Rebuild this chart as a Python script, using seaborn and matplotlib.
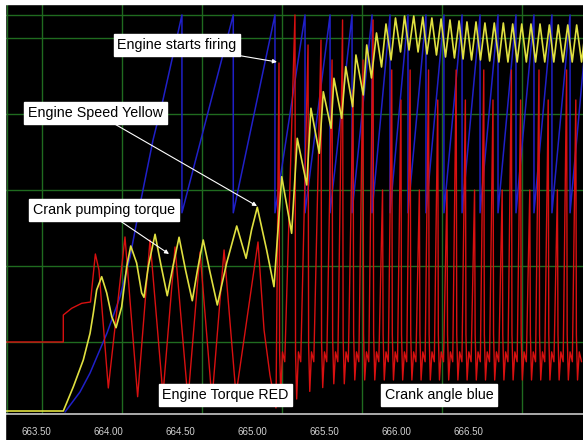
import matplotlib
matplotlib.use("Agg")
import matplotlib.pyplot as plt
from matplotlib.patches import Rectangle
import numpy as np
import pandas as pd
import seaborn as sns

sns.set_theme(style="dark")
plt.rcParams["font.family"] = ["Liberation Sans", "DejaVu Sans"]

# ---- engine speed (yellow), display divisions ----
speed_t = [663.280, 663.685, 663.755, 663.824, 663.871, 663.894, 663.917, 663.952,
           663.987, 664.022, 664.052, 664.091, 664.126, 664.154, 664.195, 664.230,
           664.246, 664.276, 664.323, 664.364, 664.408, 664.448, 664.490, 664.535,
           664.582, 664.618, 664.658, 664.705, 664.756, 664.821, 664.891, 664.956,
           664.994, 665.034, 665.099, 665.150, 665.204, 665.273, 665.312, 665.378,
           665.407, 665.465, 665.493, 665.547, 665.567, 665.621, 665.649, 665.697,
           665.720, 665.771, 665.795, 665.828, 665.863, 665.898, 665.929, 665.964,
           665.995, 666.030, 666.058, 666.089, 666.122, 666.152, 666.185, 666.214,
           666.248, 666.280, 666.312, 666.343, 666.374, 666.405, 666.437, 666.465,
           666.492, 666.524, 666.555, 666.586, 666.617, 666.650, 666.682, 666.714,
           666.745, 666.777, 666.810, 666.841, 666.873, 666.905, 666.937, 666.969,
           667.000, 667.033, 667.065, 667.096, 667.127, 667.160, 667.193, 667.224,
           667.255, 667.289, 667.320]
speed_v = [0.092, 0.092, 0.412, 0.763, 1.114, 1.382, 1.684, 1.859,
           1.645, 1.333, 1.188, 1.464, 1.991, 2.263, 2.039, 1.645,
           1.588, 1.991, 2.417, 2.013, 1.609, 2.000, 2.378, 1.947,
           1.543, 1.947, 2.342, 1.921, 1.487, 2.039, 2.526, 2.101,
           2.474, 2.772, 2.211, 1.728, 3.175, 2.430, 3.680, 3.066,
           4.075, 3.483, 4.293, 3.812, 4.470, 3.943, 4.622, 4.096,
           4.776, 4.250, 4.908, 4.474, 5.066, 4.618, 5.184, 4.711,
           5.263, 4.816, 5.289, 4.842, 5.289, 4.816, 5.276, 4.789,
           5.263, 4.776, 5.250, 4.750, 5.237, 4.737, 5.224, 4.724,
           5.211, 4.711, 5.211, 4.711, 5.197, 4.697, 5.197, 4.684,
           5.197, 4.684, 5.184, 4.684, 5.184, 4.684, 5.184, 4.684,
           5.184, 4.684, 5.171, 4.684, 5.171, 4.684, 5.171, 4.684,
           5.171, 4.684, 5.171]

# ---- engine torque (red): cranking phase ----
torque_t = [663.280, 663.685, 663.685, 663.743, 663.813, 663.874, 663.908, 663.933,
            663.998, 664.114, 664.202, 664.288, 664.378, 664.462, 664.552, 664.636,
            664.719, 664.803, 664.886, 665.039, 665.081, 665.122, 665.164]
torque_v = [1.000, 1.000, 1.355, 1.443, 1.509, 1.526, 2.158, 1.947,
            0.395, 2.382, 0.280, 2.342, 0.303, 2.250, 0.237, 2.184,
            0.237, 2.211, 0.303, 2.316, 1.158, 0.566, 0.132]

# ---- engine torque (red): firing pulses ----
fire_t = [665.185, 665.296, 665.387, 665.477, 665.554, 665.627, 665.700, 665.769,
          665.839, 665.905, 665.969, 666.033, 666.097, 666.161, 666.225, 666.289,
          666.353, 666.417, 666.481, 666.545, 666.609, 666.673, 666.737, 666.801,
          666.865, 666.929, 666.993, 667.057, 667.121, 667.185, 667.249]
fire_peak = [4.671, 5.303, 4.908, 4.974, 4.711, 5.237, 4.316, 4.711,
             5.237, 3.000, 4.579, 4.184, 4.579, 3.000, 4.579, 4.184,
             3.000, 4.579, 4.184, 3.000, 4.579, 4.184, 3.000, 4.579,
             4.184, 3.000, 4.579, 4.184, 3.000, 4.579, 4.184]
fire_dip = [0.30, 0.25, 0.35, 0.40, 0.45, 0.45, 0.50, 0.50,
            0.50, 0.50, 0.50, 0.50, 0.50, 0.50, 0.50, 0.50,
            0.50, 0.50, 0.50, 0.50, 0.50, 0.50, 0.50, 0.50,
            0.50, 0.50, 0.50, 0.50, 0.50, 0.50, 0.50]
fire_rest = 0.87

# ---- crank angle (blue) ----
crank_t = [663.697, 663.801, 663.871, 663.989, 664.079, 664.149, 664.218,
           664.309, 664.378, 664.510]
crank_v = [0.079, 0.342, 0.592, 1.118, 1.592, 2.118, 2.803, 3.658, 4.184, 5.303]
wrap_t = [664.867, 665.157, 665.366, 665.540, 665.693, 665.832, 665.957, 666.082,
          666.207, 666.332, 666.458, 666.583, 666.708, 666.833, 666.958, 667.083,
          667.209, 667.334]
crank_lo, crank_hi = 2.70, 5.303

major_ticks = [663.50, 664.00, 664.50, 665.00, 665.50, 666.00, 666.50, 667.00]
major_labels = ["663.50", "664.00", "664.50", "665.00", "665.50", "666.00", "666.50", ""]
minor_ticks = [663.75, 664.25, 664.75, 665.25, 665.75, 666.25, 666.75, 667.25]
grid_x = [663.535, 664.091, 664.647, 665.204, 665.760, 666.316, 666.873]
grid_y = [1, 2, 3, 4, 5]

# assemble traces
bt, bv = list(crank_t), list(crank_v)
for t in wrap_t:
    bt += [bt[-1], t]
    bv += [crank_lo, crank_hi]
crank = pd.DataFrame({"t": bt, "v": bv})

rt, rv = list(torque_t), list(torque_v)
for t, pk, dp in zip(fire_t, fire_peak, fire_dip):
    rt += [t, t + 0.004, t + 0.012, t + 0.024, t + 0.040]
    rv += [pk, dp + 0.6, dp, fire_rest, 0.74]
torque = pd.DataFrame({"t": rt, "v": rv})
speed = pd.DataFrame({"t": speed_t, "v": speed_v})

fig = plt.figure(figsize=(5.83, 4.40), dpi=100, facecolor="black")
ax = fig.add_axes([5 / 583, 26 / 440, 578 / 583, 410 / 440])
ax.set_facecolor("black")
ax.set_xlim(663.2796, 667.299)
ax.set_ylim(0.0526, 5.447)

grid_col = "#1f6b1f"
for gx in grid_x + [663.2935]:
    ax.axvline(gx, color=grid_col, lw=1.0, zorder=0)
for gy in grid_y + [5.303]:
    ax.axhline(gy, color=grid_col, lw=1.0, zorder=0)

kw = dict(ax=ax, x="t", y="v", sort=False, estimator=None, legend=False)
sns.lineplot(data=crank, color="#2020c8", lw=1.1, **kw)
sns.lineplot(data=torque, color="#d81010", lw=1.0, **kw)
sns.lineplot(data=speed, color="#e0e040", lw=1.2, **kw)

for s in ["top", "left", "right"]:
    ax.spines[s].set_visible(False)
ax.spines["bottom"].set_color("#c8c8c8")
ax.spines["bottom"].set_linewidth(1.2)
ax.set_yticks([])
ax.set_xticks(major_ticks)
ax.set_xticklabels(major_labels)
ax.set_xticks(minor_ticks, minor=True)
ax.tick_params(axis="x", which="major", colors="#c8c8c8", length=4.2, width=0.8, pad=5.5,
               labelsize=7, direction="out", labelcolor="#d0d0d0")
ax.tick_params(axis="x", which="minor", colors="#c8c8c8", length=2.4, width=0.8,
               direction="out")
for lab in ax.get_xticklabels():
    lab.set_family(["Liberation Sans Narrow", "Liberation Sans", "DejaVu Sans"])
ax.set_xlabel("")
ax.set_ylabel("")
ax.grid(False)

box = dict(boxstyle="square,pad=0.26", fc="white", ec="white")
arrow = dict(arrowstyle="-|>", color="white", lw=0.8, mutation_scale=6, shrinkA=0, shrinkB=0)
txt = dict(fontsize=10.3, color="black", ha="center", va="center", bbox=box)
ax.annotate("Engine starts firing", xy=(665.171, 4.684), xytext=(664.476, 4.908),
            arrowprops=arrow, **txt)
ax.annotate("Engine Speed Yellow", xy=(665.032, 2.789), xytext=(663.909, 4.013),
            arrowprops=arrow, **txt)
ax.annotate("Crank pumping torque", xy=(664.420, 2.158), xytext=(663.968, 2.737),
            arrowprops=arrow, **txt)
ax.text(664.813, 0.303, "Engine Torque RED", **txt)
ax.text(666.298, 0.303, "Crank angle blue", **txt)

fig.patches.append(Rectangle((0, 1 - 4 / 440), 1, 4 / 440, transform=fig.transFigure,
                             color="white", zorder=10))
fig.patches.append(Rectangle((0, 0), 5 / 583, 1, transform=fig.transFigure,
                             color="white", zorder=10))

fig.savefig("out.png", dpi=100, facecolor="black")
